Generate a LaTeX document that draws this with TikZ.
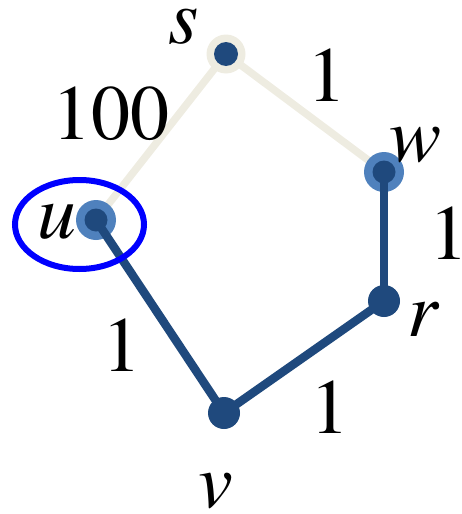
\documentclass[tikz,border=0pt]{standalone}
\usepackage[T1]{fontenc}
\usetikzlibrary{shapes.geometric}
\definecolor{beige}{HTML}{EEECE1}
\definecolor{halo}{HTML}{4F81BD}
\definecolor{dark}{HTML}{1F497D}
\definecolor{ring}{HTML}{0000FF}
\pgfdeclarelayer{lone}
\pgfdeclarelayer{ltwo}
\pgfdeclarelayer{ltop}
\pgfsetlayers{lone,ltwo,main,ltop}
\tikzset{
  dot/.style={circle,fill=dark,inner sep=0pt,minimum size=#1},
  halobeige/.style={circle,fill=beige,inner sep=0pt,minimum size=39pt},
  haloblue/.style={circle,fill=halo,inner sep=0pt,minimum size=40pt},
  lbl/.style={inner sep=0pt,font=\fontencoding{T1}\fontfamily{ptm}\fontsize{78}{80}\selectfont},
  lightedge/.style={draw=beige,line width=7.5pt},
  darkedge/.style={draw=dark,line width=8.5pt},
}
\begin{document}
\begin{tikzpicture}[x=1pt,y=-1pt]
\useasboundingbox (0,0) rectangle (461,514);
\begin{pgfonlayer}{ltop}
\node[dot=24pt] (s) at (226,54) {};
\node[dot=23pt] (w) at (384,172) {};
\node[dot=23pt] (u) at (96,220) {};
\node[dot=32pt] (r) at (384,301) {};
\node[dot=32pt] (v) at (224,413) {};
\end{pgfonlayer}
\begin{pgfonlayer}{ltwo}
\node[halobeige] (sh) at (s) {};
\node[haloblue] (wh) at (w) {};
\node[haloblue] (uh) at (u) {};
\end{pgfonlayer}
\begin{pgfonlayer}{lone}
\draw[lightedge] (s.center) -- (u.center);
\draw[lightedge] (s.center) -- (w.center);
\end{pgfonlayer}
\draw[darkedge] (u.center) -- (v.center);
\draw[darkedge] (v.center) -- (r.center);
\draw[darkedge] (r.center) -- (w.center);
% ellipse
\node[draw=ring,line width=6pt,ellipse,minimum width=129pt,minimum height=89pt,inner sep=0pt] (ring) at (79.5,224.5) {};
% labels
\node[lbl] (ls) at (184,27) {\itshape s};
\node[lbl] (lu) at (57,222) {\itshape u};
\node[lbl] (lw) at (416,145) {\itshape w};
\node[lbl] (lr) at (423,320) {\itshape r};
\node[lbl] (lv) at (216,491) {\itshape v};
\node[lbl] (l100) at (111,113) {100};
\node[lbl] (l1a) at (327,75) {1};
\node[lbl] (l1b) at (449,233) {1};
\node[lbl] (l1c) at (122,345) {1};
\node[lbl] (l1d) at (330,407) {1};
\end{tikzpicture}
\end{document}
